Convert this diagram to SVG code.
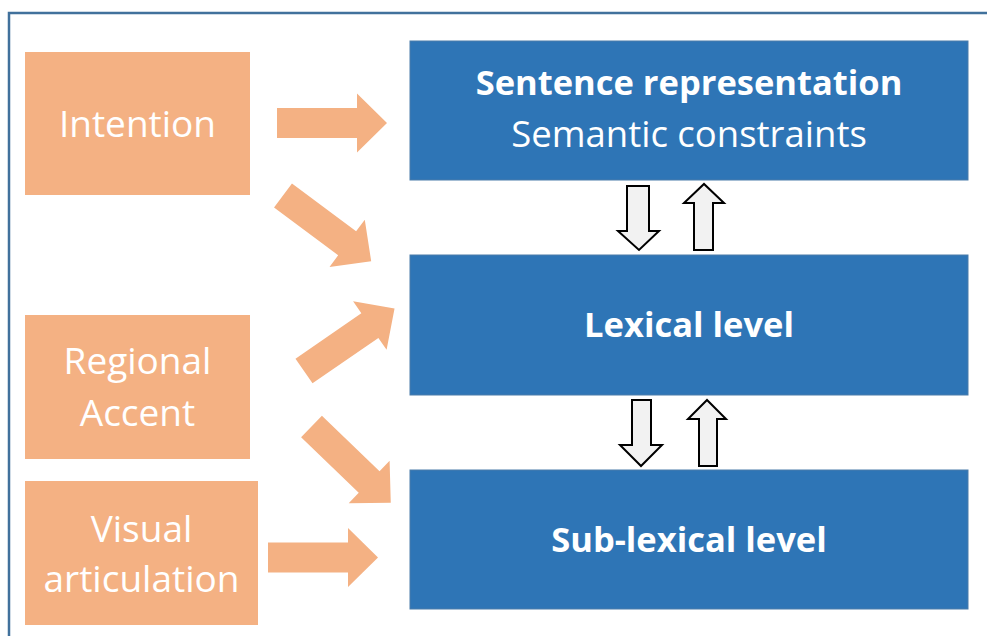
<svg xmlns="http://www.w3.org/2000/svg" xmlns:xlink="http://www.w3.org/1999/xlink" width="987" height="636" viewBox="0 0 987 636">
  <style>
    .src { fill: #F4B183; }
    .lvl { fill: #2E75B6; stroke: #4A7DAA; stroke-width: 1; }
    .src-t { fill: #FFFFFF; font-family: "Open Sans", "Noto Sans", sans-serif; font-size: 37px; text-anchor: middle; }
    .lvl-t { fill: #FFFFFF; font-family: "Open Sans", "Noto Sans", sans-serif; text-anchor: middle; }
    .b { font-weight: bold; font-size: 34.5px; }
    .r { font-size: 36.5px; }
    .feed { fill: #F4B183; }
    .link { fill: #F2F2F2; stroke: #000000; stroke-width: 2; stroke-linejoin: miter; }
    .frame { fill: none; stroke: #41719C; stroke-width: 2.5; }
  </style>
  <defs>
    <!-- block arrow pointing along +x, tail centred on the origin -->
    <path id="feed-arrow" d="M0,-15 H80 V-29.5 L110,0 L80,29.5 V15 H0 Z"/>
  </defs>

  <rect width="987" height="636" fill="#FFFFFF"/>
  <path class="frame" d="M9,640 V13 H990"/>

  <!-- input nodes -->
  <g id="intention">
    <rect class="src" x="25" y="52" width="225" height="143"/>
    <text class="src-t" x="137.5" y="137">Intention</text>
  </g>
  <g id="regional-accent">
    <rect class="src" x="25" y="315" width="225" height="144"/>
    <text class="src-t" x="137.5" y="374">Regional</text>
    <text class="src-t" x="137.5" y="426">Accent</text>
  </g>
  <g id="visual-articulation">
    <rect class="src" x="25" y="481" width="233" height="144"/>
    <text class="src-t" x="141.5" y="542">Visual</text>
    <text class="src-t" x="141.5" y="592">articulation</text>
  </g>

  <!-- processing levels -->
  <g id="sentence-level">
    <rect class="lvl" x="410" y="41" width="558" height="139"/>
    <text class="lvl-t b" x="689" y="95">Sentence representation</text>
    <text class="lvl-t r" x="689" y="147">Semantic constraints</text>
  </g>
  <g id="lexical-level">
    <rect class="lvl" x="410" y="255" width="558" height="140"/>
    <text class="lvl-t b" x="689" y="337">Lexical level</text>
  </g>
  <g id="sublexical-level">
    <rect class="lvl" x="410" y="470" width="558" height="139"/>
    <text class="lvl-t b" x="689" y="552">Sub-lexical level</text>
  </g>

  <!-- connectors -->
  <g id="connectors">
    <use class="feed" xlink:href="#feed-arrow" href="#feed-arrow" transform="translate(277,123)"/>
    <use class="feed" xlink:href="#feed-arrow" href="#feed-arrow" transform="translate(283,195.5) rotate(36.7)"/>
    <use class="feed" xlink:href="#feed-arrow" href="#feed-arrow" transform="translate(304,371) rotate(-34.6)"/>
    <use class="feed" xlink:href="#feed-arrow" href="#feed-arrow" transform="translate(311.5,426.5) rotate(43.9)"/>
    <use class="feed" xlink:href="#feed-arrow" href="#feed-arrow" transform="translate(268,557.5)"/>

    <!-- top-down / bottom-up links between levels -->
    <path class="link" d="M627,186 H649 V231 H659 L639,250 L618,231 H627 Z"/>
    <path class="link" d="M694,250 H713 V203 H724 L704,184 L684,203 H694 Z"/>
    <path class="link" d="M632,400 H651 V445 H662 L641,466 L620,445 H632 Z"/>
    <path class="link" d="M699,466 H717 V419 H726 L707,400 L688,419 H699 Z"/>
  </g>
</svg>
